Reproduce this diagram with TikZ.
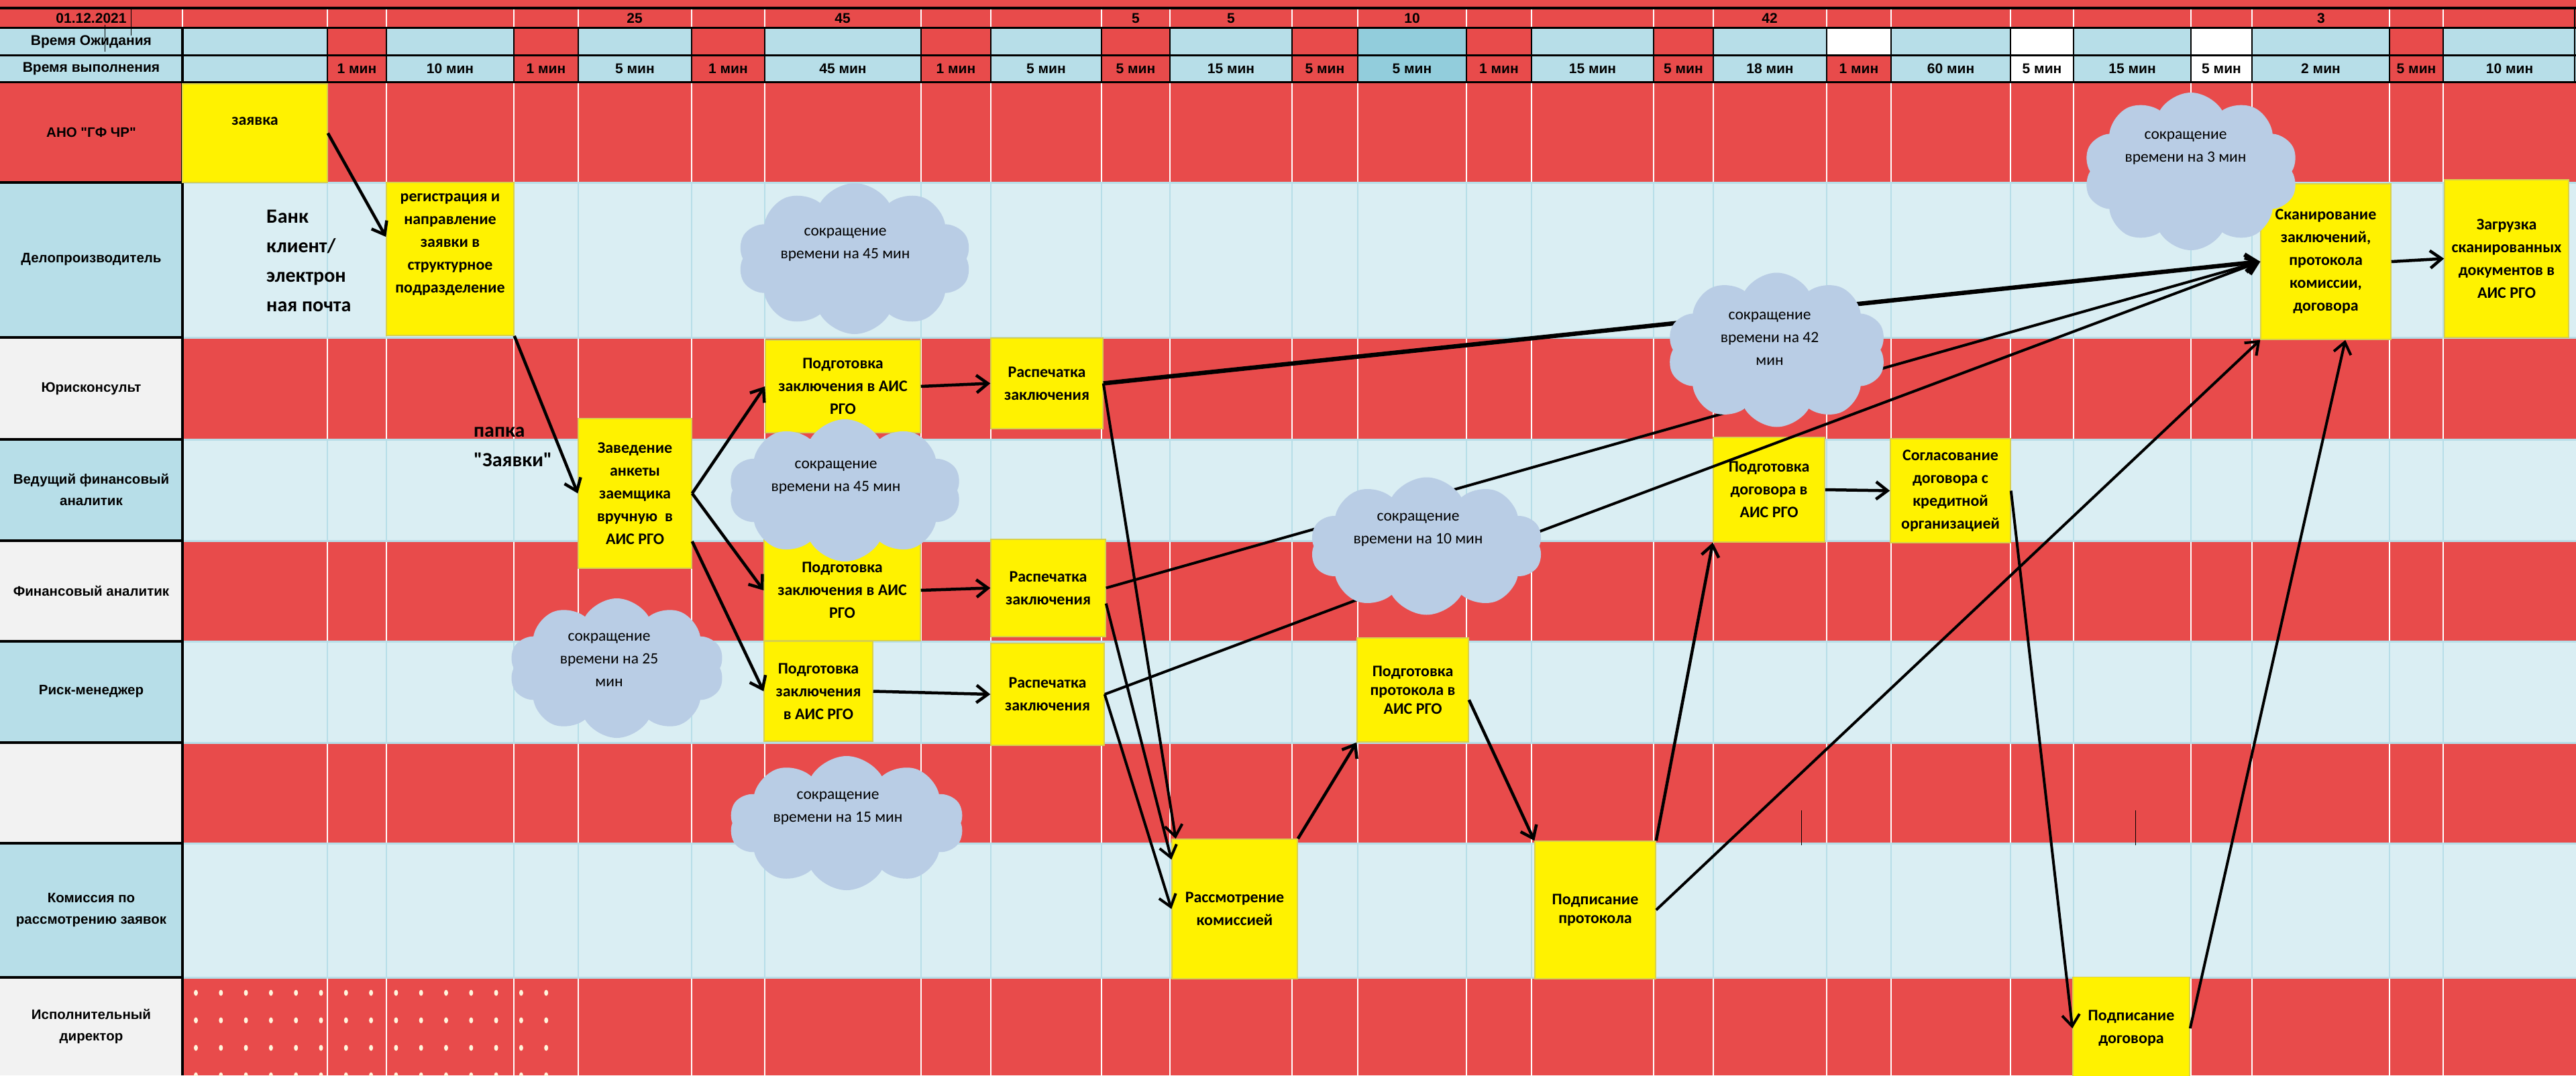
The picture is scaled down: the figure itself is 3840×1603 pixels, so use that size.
\documentclass[tikz,border=0pt]{standalone}
\usepackage{fontspec}
\usetikzlibrary{arrows.meta,shapes.symbols}
\newfontfamily\labelfont{Liberation Sans}
\newfontfamily\taskfont{Carlito}
\definecolor{lanered}{HTML}{E84B4B}
\definecolor{lanelb}{HTML}{DAEEF3}
\definecolor{hdrblue}{HTML}{B7DEE8}
\definecolor{hdrdark}{HTML}{92CDDC}
\definecolor{labelgray}{HTML}{F2F2F2}
\definecolor{cloudblue}{HTML}{B9CDE5}
\definecolor{dotcol}{HTML}{FFF5DC}
\tikzset{
  lanelabel/.style={font=\labelfont\bfseries\fontsize{20.5}{32}\selectfont, align=center, inner sep=0pt},
  hdr/.style={font=\labelfont\bfseries\fontsize{21}{24}\selectfont, inner sep=0pt},
  task/.style={fill=yellow, draw=yellow!65!gray, line width=1.5pt, align=center,
    font=\taskfont\bfseries\fontsize{24}{34}\selectfont, inner sep=0pt},
  tight/.style={font=\taskfont\bfseries\fontsize{24}{28}\selectfont},
  saving/.style={cloud, cloud puffs=10, cloud puff arc=120, fill=cloudblue, inner sep=0pt},
  savetext/.style={font=\taskfont\fontsize{23.5}{34}\selectfont, align=center, inner sep=0pt},
  note/.style={font=\taskfont\bfseries\fontsize{30}{44}\selectfont, align=left, inner sep=0pt},
  flow/.style={-{Straight Barb[length=17pt,width=26pt]}, line width=4.5pt, black},
}
\begin{document}
\begin{tikzpicture}[x=1pt,y=-1pt]
\useasboundingbox (0,0) rectangle (3840,1603);
% background of the lanes
\fill[lanered] (0,0) rectangle (3840,122);
\foreach \ya/\yb/\lfill/\bfill in {122/272/lanered/lanered, 272/503/hdrblue/lanelb,
  503/655/labelgray/lanered, 655/806/hdrblue/lanelb, 806/956/labelgray/lanered,
  956/1107/hdrblue/lanelb, 1107/1257/labelgray/lanered, 1257/1457/hdrblue/lanelb,
  1457/1603/labelgray/lanered}
{
  \fill[\lfill] (0,\ya) rectangle (272,\yb);
  \fill[\bfill] (272,\ya) rectangle (3840,\yb);
}
% grid of the lanes
\foreach \ya/\yb/\gcol in {122/272/white, 272/503/hdrblue, 503/655/white, 655/806/hdrblue,
  806/956/white, 956/1107/hdrblue, 1107/1257/white, 1257/1457/hdrblue, 1457/1603/white}
  \foreach \x in {488,576,766,862,1031,1140,1373,1477,1642,1744,1926,2024,2186,2283,2465,2554,2723,2819,2997,3091,3266,3357,3562,3642}
    \draw[\gcol, line width=1.5pt] (\x,\ya) -- (\x,\yb);
\foreach \y in {272,503,655,806,956,1107,1257,1457}
{
  \draw[hdrblue, line width=3pt] (272,\y) -- (3840,\y);
  \draw[black, line width=3.5pt] (0,\y) -- (272,\y);
}
% dots
\foreach \i in {0,...,14}
  \foreach \j in {0,...,3}
    \fill[dotcol] ({292+37.3*\i},{1480+41*\j}) ellipse (3 and 4.5);

% header
\fill[hdrblue] (0,42) rectangle (272,122);
\foreach \xa/\xb/\cfill/\tm in {272/488/hdrblue/{}, 488/576/lanered/1 мин, 576/766/hdrblue/10 мин,
  766/862/lanered/1 мин, 862/1031/hdrblue/5 мин, 1031/1140/lanered/1 мин, 1140/1373/hdrblue/45 мин,
  1373/1477/lanered/1 мин, 1477/1642/hdrblue/5 мин, 1642/1744/lanered/5 мин, 1744/1926/hdrblue/15 мин,
  1926/2024/lanered/5 мин, 2024/2186/hdrdark/5 мин, 2186/2283/lanered/1 мин, 2283/2465/hdrblue/15 мин,
  2465/2554/lanered/5 мин, 2554/2723/hdrblue/18 мин, 2723/2819/lanered/1 мин, 2819/2997/hdrblue/60 мин,
  2997/3091/white/5 мин, 3091/3266/hdrblue/15 мин, 3266/3357/white/5 мин, 3357/3562/hdrblue/2 мин,
  3562/3642/lanered/5 мин, 3642/3840/hdrblue/10 мин}
{
  \fill[\cfill] (\xa,42) rectangle (\xb,122);
  \node[hdr] (time\xa) at ({(\xa+\xb)/2},102) {\tm};
}
\fill[white] (2723,42) rectangle (2819,82);
\foreach \x in {272,488,576,766,862,1031,1140,1373,1477,1642,1744,1926,2024,2186,2283,2465,2554,2723,2819,2997,3091,3266,3357,3562,3642}
{
  \draw[white, line width=1.5pt] (\x,12) -- (\x,42);
  \draw[black, line width=2pt] (\x,42) -- (\x,122);
}
\draw[black, line width=2pt] (3838,12) -- (3838,122);
\draw[black, line width=4pt] (0,12) -- (3840,12);
\foreach \y in {42,82,122}
  \draw[black, line width=3pt] (0,\y) -- (3840,\y);
\draw[black, line width=3.5pt] (272,42) -- (272,1603);
\draw[black, line width=1pt] (156,37) -- (156,77);
\draw[black, line width=1pt] (195,12) -- (195,53);
\draw[black, line width=1pt] (2685,1208) -- (2685,1260);
\draw[black, line width=1pt] (3183,1208) -- (3183,1260);

\node[hdr] (date) at (136,27) {01.12.2021};
\node[hdr] (waitlab) at (136,62) {Время Ожидания};
\node[hdr] (worklab) at (136,102) {Время выполнения};
\foreach \xc/\w [count=\i] in {946/25, 1256/45, 1693/5, 1835/5, 2105/10, 2638/42, 3460/3}
  \node[hdr] (wait\i) at (\xc,27) {\w};

% lane names
\foreach \yc/\lab [count=\i] in {197/{АНО "ГФ ЧР"}, 387/Делопроизводитель, 579/Юрисконсульт,
  730/{Ведущий финансовый\\аналитик}, 881/Финансовый аналитик, 1031/Риск-менеджер,
  1357/{Комиссия по\\рассмотрению заявок}, 1530/{Исполнительный\\директор}}
  \node[lanelabel] (lane\i) at (136,\yc) {\lab};

% free notes
\node[note, anchor=west] (bank) at (397,389) {Банк\\клиент/\\электрон\\ная почта};
\node[note, anchor=west] (folder) at (706,666) {папка\\"Заявки"};

% steps
\node[task, minimum width=216pt, minimum height=147pt, text depth=36pt] (zayavka) at (380,198.5) {заявка};
\node[task, minimum width=190pt, minimum height=228pt, text depth=46pt] (reg) at (671,386) {регистрация и\\направление\\заявки в\\структурное\\подразделение};
\node[task, minimum width=169pt, minimum height=223pt] (zaved) at (946.5,735.5) {Заведение\\анкеты\\заемщика\\вручную\ \ в\\АИС РГО};
\node[task, minimum width=231pt, minimum height=138pt] (podgYur) at (1256.5,576) {Подготовка\\заключения в АИС\\РГО};
\node[task, minimum width=167pt, minimum height=135pt] (raspYur) at (1560.5,571.5) {Распечатка\\заключения};
\node[task, minimum width=233pt, minimum height=150pt] (podgFin) at (1255.5,880) {Подготовка\\заключения в АИС\\РГО};
\node[task, minimum width=171pt, minimum height=145pt] (raspFin) at (1562.5,876.5) {Распечатка\\заключения};
\node[task, minimum width=162pt, minimum height=149pt] (podgRisk) at (1220,1030.5) {Подготовка\\заключения\\в АИС РГО};
\node[task, minimum width=169pt, minimum height=152pt] (raspRisk) at (1561.5,1035) {Распечатка\\заключения};
\node[task, minimum width=187pt, minimum height=208pt] (rassm) at (1840.5,1355) {Рассмотрение\\комиссией};
\node[task, tight, minimum width=166pt, minimum height=155pt] (podgProt) at (2106,1028.5) {Подготовка\\протокола в\\АИС РГО};
\node[task, tight, minimum width=180pt, minimum height=205pt] (podpProt) at (2378,1356.5) {Подписание\\протокола};
\node[task, minimum width=166pt, minimum height=156pt] (podgDog) at (2637,730) {Подготовка\\договора в\\АИС РГО};
\node[task, minimum width=179pt, minimum height=155pt] (soglas) at (2907.5,731.5) {Согласование\\договора с\\кредитной\\организацией};
\node[task, minimum width=174pt, minimum height=153pt] (podpDog) at (3177,1533) {Подписание\\договора};
\node[task, minimum width=194pt, minimum height=232pt] (skan) at (3467,390) {Сканирование\\заключений,\\протокола\\комиссии,\\договора};
\node[task, minimum width=185pt, minimum height=235pt] (zagruz) at (3736.5,385.5) {Загрузка\\сканированных\\документов в\\АИС РГО};

% connectors
\draw[flow] (zayavka.east) -- (reg.161);
\draw[flow] (reg.south east) -- (zaved.west);
\draw[flow] (zaved.east) -- (podgYur.west);
\draw[flow] (zaved.east) -- (podgFin.west);
\draw[flow] (zaved.-40) -- (podgRisk.west);
\draw[flow] (podgYur.east) -- (raspYur.west);
\draw[flow] (podgFin.east) -- (raspFin.west);
\draw[flow] (podgRisk.east) -- (raspRisk.west);
\draw[flow, line width=6.5pt] (raspYur.east) -- (skan.west);
\draw[flow, line width=4pt] (raspYur.east) -- (rassm.130);
\draw[flow, line width=4pt] (raspFin.east) -- (skan.west);
\draw[flow, line width=4pt] (raspFin.-15) -- (rassm.142);
\draw[flow, line width=4pt] (raspRisk.east) -- (skan.west);
\draw[flow, line width=4pt] (raspRisk.east) -- (rassm.west);
\draw[flow] (rassm.north east) -- (podgProt.south west);
\draw[flow] (podgProt.-10) -- (podpProt.north west);
\draw[flow] (podpProt.north east) -- (podgDog.south west);
\draw[flow, line width=4pt] (podpProt.east) -- (skan.south west);
\draw[flow] (podgDog.east) -- (soglas.west);
\draw[flow, line width=4pt] (soglas.east) -- (podpDog.west);
\draw[flow, line width=4pt] (podpDog.east) -- (skan.-76);
\draw[flow] (skan.east) -- (zagruz.west);

% time savings
\node[saving, minimum width=348pt, minimum height=225pt] (save45a) at (1274,385.5) {};
\node[savetext] (save45aT) at (1260,365) {сокращение\\времени на 45 мин};
\node[saving, minimum width=347pt, minimum height=212pt] (save45b) at (1259.5,731) {};
\node[savetext] (save45bT) at (1246,712) {сокращение\\времени на 45 мин};
\node[saving, minimum width=321pt, minimum height=208pt] (save25) at (919.5,996) {};
\node[savetext] (save25T) at (908,984) {сокращение\\времени на 25\\мин};
\node[saving, minimum width=350pt, minimum height=200pt] (save15) at (1262,1227) {};
\node[savetext] (save15T) at (1249,1205) {сокращение\\времени на 15 мин};
\node[saving, minimum width=347pt, minimum height=205pt] (save10) at (2126.5,814) {};
\node[savetext] (save10T) at (2114,790) {сокращение\\времени на 10 мин};
\node[saving, minimum width=327pt, minimum height=230pt] (save42) at (2648.5,521.5) {};
\node[savetext] (save42T) at (2638,505) {сокращение\\времени на 42\\мин};
\node[saving, minimum width=320pt, minimum height=235pt] (save3) at (3266,255.5) {};
\node[savetext] (save3T) at (3258,221) {сокращение\\времени на 3 мин};
\end{tikzpicture}
\end{document}
